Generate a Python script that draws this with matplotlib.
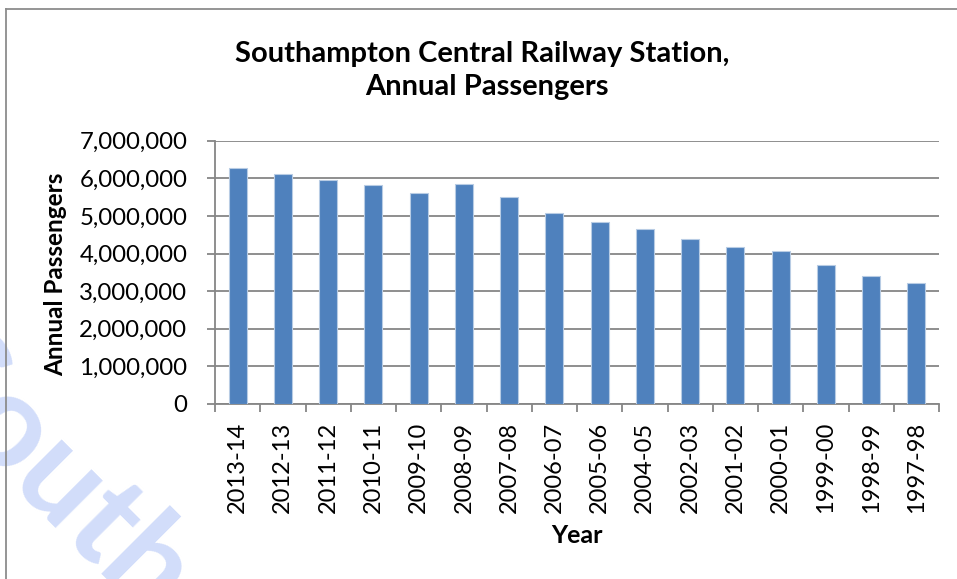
import matplotlib
matplotlib.use("Agg")
import matplotlib.pyplot as plt
from matplotlib.ticker import FuncFormatter, MultipleLocator
from matplotlib.lines import Line2D

years = ["2013-14", "2012-13", "2011-12", "2010-11", "2009-10", "2008-09", "2007-08",
         "2006-07", "2005-06", "2004-05", "2002-03", "2001-02", "2000-01", "1999-00",
         "1998-99", "1997-98"]
passengers = [6280000, 6120000, 5950000, 5810000, 5600000, 5840000, 5500000,
              5090000, 4850000, 4650000, 4390000, 4180000, 4070000, 3700000,
              3400000, 3220000]

title_lines = ["Southampton Central Railway Station,", "Annual Passengers"]
FONT = ["Lato", "DejaVu Sans"]
plt.rcParams['font.family'] = FONT

W, H = 957, 579
fig = plt.figure(figsize=(W / 100, H / 100), dpi=100)
fig.patch.set_facecolor("white")

# watermark
fig.text(-95 / W, 1 - 380 / H, "Southampton", fontsize=94, color="#d2ddfa", rotation=-45,
         rotation_mode="anchor", ha="left", va="baseline", zorder=0, fontweight="bold")

# chart border (top and left visible)
fig.add_artist(Line2D([6 / W, 6 / W], [0, 1 - 9 / H], color="#8c8c8c", lw=1.3,
                      transform=fig.transFigure, zorder=1))
fig.add_artist(Line2D([6 / W, 1], [1 - 9 / H, 1 - 9 / H], color="#8c8c8c", lw=1.3,
                      transform=fig.transFigure, zorder=1))

left, right, bottom, top = 215, 939, 404, 140.7
ax = fig.add_axes([left / W, 1 - bottom / H, (right - left) / W, (bottom - top) / H])
ax.set_facecolor("none")
ax.set_zorder(2)

x = list(range(len(years)))
ax.bar(x, passengers, width=0.40, color="#4f81bd", edgecolor="#b8cce4", linewidth=0.8, zorder=3)

ax.set_xlim(-0.5, len(years) - 0.5)
ax.set_ylim(0, 7000000)
ax.yaxis.set_major_locator(MultipleLocator(1000000))
ax.yaxis.set_major_formatter(FuncFormatter(lambda v, p: f"{int(v):,}"))
ax.grid(axis="y", color="#868686", lw=1.3, zorder=1)
ax.set_axisbelow(True)

ax.set_xticks([i - 0.5 for i in range(len(years) + 1)])
ax.set_xticklabels([])
ax.set_xticks(x, minor=True)
ax.set_xticklabels(years, minor=True, rotation=90, fontsize=17)
ax.tick_params(axis="x", which="minor", length=0, pad=13)
ax.tick_params(axis="x", which="major", length=6, color="#868686", width=1.3, direction="out")
ax.tick_params(axis="y", length=6, color="#868686", width=1.3, labelsize=17.3, pad=14)

for s in ["top", "right"]:
    ax.spines[s].set_visible(False)
for s in ["left", "bottom"]:
    ax.spines[s].set_color("#868686")
    ax.spines[s].set_linewidth(1.3)

fig.text(482 / W, 1 - 62 / H, title_lines[0], ha="center", va="baseline", fontsize=21,
         fontweight="bold")
fig.text(487 / W, 1 - 95 / H, title_lines[1], ha="center", va="baseline", fontsize=21,
         fontweight="bold")
fig.text(56 / W, 1 - 274 / H, "Annual Passengers", ha="center", va="center",
         rotation=90, fontsize=17.5, fontweight="bold")
fig.text(577 / W, 1 - 543 / H, "Year", ha="center", va="baseline", fontsize=18,
         fontweight="bold")

fig.savefig("out.png", dpi=100)
